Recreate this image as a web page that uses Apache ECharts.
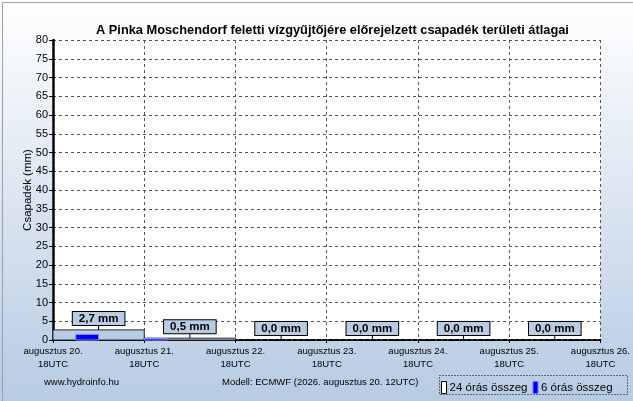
<!DOCTYPE html>
<html>
<head>
<meta charset="utf-8">
<script src="https://cdn.jsdelivr.net/npm/echarts@6/dist/echarts.min.js"></script>
<style>
  html, body { margin: 0; padding: 0; }
  body { width: 633px; height: 401px; overflow: hidden; }
  #chart { width: 633px; height: 401px; }
</style>
</head>
<body>
<div id="chart"></div>
<script>
// ---- data ----
const tickDays = ['augusztus 20.', 'augusztus 21.', 'augusztus 22.', 'augusztus 23.', 'augusztus 24.', 'augusztus 25.', 'augusztus 26.'];
const tickHour = '18UTC';
const daily24 = [2.7, 0.5, 0.0, 0.0, 0.0, 0.0];
const sixHour = [0.0, 1.5, 0.0, 0.0,
                 0.4, 0.0, 0.0, 0.0,
                 0.0, 0.0, 0.0, 0.0,
                 0.0, 0.0, 0.0, 0.0,
                 0.0, 0.0, 0.0, 0.0,
                 0.0, 0.0, 0.0, 0.0];
const titleText = 'A Pinka Moschendorf feletti vízgyűjtőjére előrejelzett csapadék területi átlagai';
const yName = 'Csapadék (mm)';
const siteText = 'www.hydroinfo.hu';
const modelText = 'Modell: ECMWF (2026. augusztus 20. 12UTC)';
const name24 = '24 órás összeg';
const name6 = '6 órás összeg';

const FONT = "'Liberation Sans', Arial, sans-serif";

const bars24 = daily24.map((v, i) => [i * 24, (i + 1) * 24, v]);
const bars6 = sixHour.map((v, i) => [i * 6, (i + 1) * 6, v]);
const labels24 = daily24.map((v, i) => [i * 24 + 12, v]);

function rectItem(params, api, fill, stroke) {
  const v = api.value(2);
  if (!(v > 0)) return null;
  const p0 = api.coord([api.value(0), v]);
  const p1 = api.coord([api.value(1), 0]);
  return {
    type: 'rect',
    shape: { x: p0[0], y: p0[1], width: p1[0] - p0[0], height: p1[1] - p0[1] },
    style: { fill: fill, stroke: stroke, lineWidth: 1 }
  };
}

const chart = echarts.init(document.getElementById('chart'), null, { renderer: 'canvas' });
chart.setOption({
  animation: false,
  backgroundColor: new echarts.graphic.LinearGradient(0, 0, 0, 1, [
    { offset: 0, color: '#ffffff' },
    { offset: 1, color: '#b7cbe3' }
  ]),
  title: {
    text: titleText,
    left: 91,
    top: 19,
    textStyle: { fontFamily: FONT, fontSize: 12.8, fontWeight: 'bold', color: '#000' }
  },
  grid: { left: 53, right: 31, top: 40, bottom: 61, show: true, backgroundColor: '#ffffff', borderWidth: 0 },
  xAxis: [{
    type: 'value', min: 0, max: 144, interval: 24,
    axisLine: { show: true, onZero: false, lineStyle: { color: '#000', width: 2, type: [4, 2] } },
    axisTick: { show: true, length: 3, lineStyle: { color: '#000' } },
    axisLabel: {
      margin: 5, fontFamily: FONT, fontSize: 9.5, color: '#000', lineHeight: 13,
      formatter: (val) => tickDays[Math.round(val / 24)] + '\n' + tickHour
    },
    splitLine: { show: true, lineStyle: { color: '#555', type: [3, 3], width: 1 } }
  }, {
    type: 'value', min: 0, max: 144, interval: 24, position: 'top',
    axisLine: { show: true, lineStyle: { color: '#000', width: 1, type: [3, 2] } },
    axisTick: { show: false }, axisLabel: { show: false }, splitLine: { show: false }
  }],
  yAxis: [{
    type: 'value', min: 0, max: 80, interval: 5,
    name: yName, nameLocation: 'middle', nameGap: 19, nameRotate: 90,
    nameMoveOverlap: false,
    nameTextStyle: { fontFamily: FONT, fontSize: 11.5, color: '#000' },
    axisLine: { show: true, lineStyle: { color: '#000', width: 2.5, type: [6, 1] } },
    axisTick: { show: true, length: 4, lineStyle: { color: '#000' } },
    axisLabel: { margin: 5, fontFamily: FONT, fontSize: 11, color: '#000' },
    splitLine: { show: true, lineStyle: { color: '#555', type: [3, 3], width: 1 } }
  }, {
    type: 'value', min: 0, max: 80, interval: 5, position: 'right',
    axisLine: { show: true, lineStyle: { color: '#000', width: 1, type: [3, 2] } },
    axisTick: { show: false }, axisLabel: { show: false }, splitLine: { show: false }
  }],
  legend: {
    left: 436, top: 376,
    itemGap: 5, itemWidth: 5, itemHeight: 12,
    textStyle: { fontFamily: FONT, fontSize: 11.5, color: '#000', padding: [0, 0, 0, -2] },
    data: [
      { name: name24, icon: 'rect', itemStyle: { color: '#ffffff', borderColor: '#000', borderWidth: 1 } },
      { name: name6, icon: 'rect', itemStyle: { color: '#0000ee', borderColor: '#6a7cff', borderWidth: 1 } }
    ]
  },
  graphic: [
    { type: 'rect', left: 0, top: 0, shape: { width: 632, height: 400 },
      style: { fill: 'none', stroke: '#a0a0a0', lineWidth: 1 }, z: 10 },
    { type: 'rect', left: 437, top: 373, shape: { width: 188, height: 19 },
      style: { fill: 'none', stroke: '#000', lineWidth: 1, lineDash: [1, 2] }, z: 10 },
    { type: 'text', left: 44, top: 377,
      style: { text: siteText, font: '9.5px ' + FONT, fill: '#000' } },
    { type: 'text', left: 222, top: 377,
      style: { text: modelText, font: '9.5px ' + FONT, fill: '#000' } }
  ],
  series: [{
    name: name24, type: 'custom', data: bars24,
    encode: { x: [0, 1], y: 2 },
    renderItem: (p, api) => rectItem(p, api, '#b8cce4', '#2a2a3a'),
    z: 2
  }, {
    name: name6, type: 'custom', data: bars6,
    encode: { x: [0, 1], y: 2 },
    renderItem: (p, api) => rectItem(p, api, '#0000ee', '#7f8fff'),
    z: 3
  }, {
    name: 'labels', type: 'custom', data: labels24,
    encode: { x: 0, y: 1 },
    clip: false,
    renderItem: (p, api) => {
      const v = api.value(1);
      const pt = api.coord([api.value(0), v]);
      const top = pt[1] - 5;
      return {
        type: 'group',
        children: [{
          type: 'line',
          shape: { x1: pt[0], y1: pt[1], x2: pt[0], y2: top },
          style: { stroke: '#000', lineWidth: 1 }
        }, {
          type: 'text',
          x: pt[0], y: top,
          style: {
            text: v.toFixed(1).replace('.', ',') + ' mm',
            font: 'bold 11.5px ' + FONT,
            fill: '#000',
            align: 'center', verticalAlign: 'bottom',
            backgroundColor: '#b8cce4',
            borderColor: '#000', borderWidth: 1,
            padding: [1, 6, 0, 6]
          }
        }]
      };
    },
    z: 5
  }]
});
</script>
</body>
</html>
